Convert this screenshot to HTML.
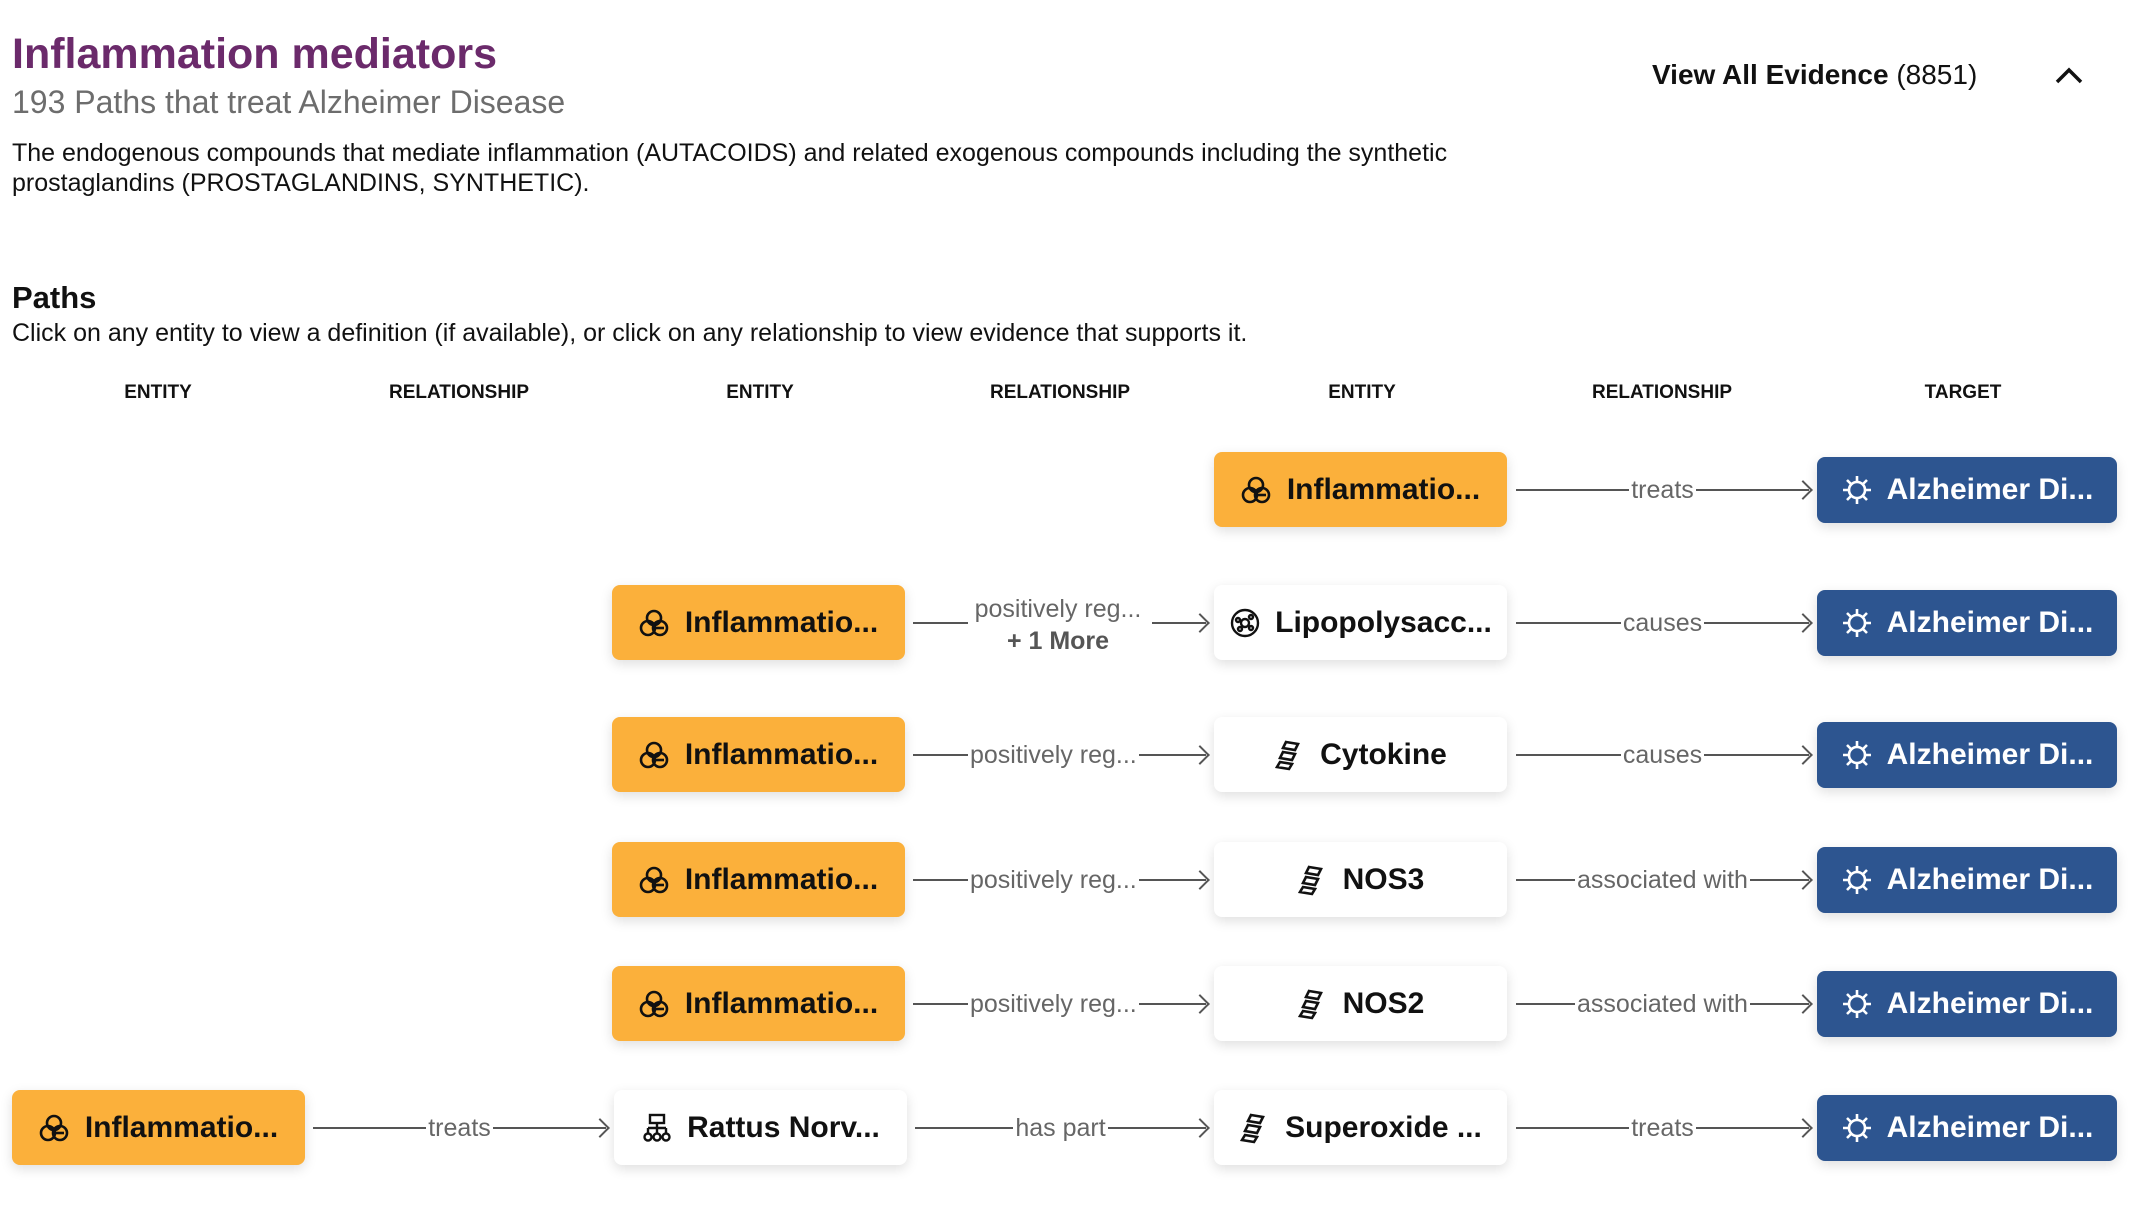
<!DOCTYPE html>
<html><head><meta charset="utf-8"><style>
body{margin:0;width:2142px;height:1226px;background:#fff;font-family:"Liberation Sans",sans-serif;position:relative;overflow:hidden;color:#111}
.a{position:absolute;white-space:nowrap}
.h{font-size:19px;font-weight:bold;transform:translateX(-50%);top:382px}
.box{position:absolute;height:75px;border-radius:8px;display:flex;align-items:center;justify-content:center;font-weight:bold;font-size:30px;box-shadow:0 4px 12px rgba(0,0,0,.13);box-sizing:border-box}
.box svg{margin-right:14px}
.o{background:#fbb03b;width:293px}
.w{background:#fff;width:293px}
.t{background:#2d5590;color:#fff;width:300px;height:66px}
.c{position:absolute;height:30px;display:flex;align-items:center;font-size:25px;color:#666}
.c i{flex:1;border-top:2px solid #555;height:0}
.c span{padding:0 2px}
.c b{width:12px;height:12px;border-top:2px solid #555;border-right:2px solid #555;transform:rotate(45deg);margin-left:-13px}
</style></head><body>
<div class="a" style="left:12px;top:30px;font-size:43px;font-weight:bold;color:#6b2a6b">Inflammation mediators</div>
<div class="a" style="left:12px;top:84px;font-size:32px;color:#6d6d6d">193 Paths that treat Alzheimer Disease</div>
<div class="a" style="left:12px;top:138px;font-size:25px;line-height:30px">The endogenous compounds that mediate inflammation (AUTACOIDS) and related exogenous compounds including the synthetic<br>prostaglandins (PROSTAGLANDINS, SYNTHETIC).</div>
<div class="a" style="left:1652px;top:59px;font-size:28px"><b>View All Evidence</b> (8851)</div>
<svg class="a" style="left:2054px;top:66px" width="30" height="20"><path d="M3 16 L15 4 L27 16" fill="none" stroke="#111" stroke-width="3.5"/></svg>
<div class="a" style="left:12px;top:280px;font-size:31px;font-weight:bold">Paths</div>
<div class="a" style="left:12px;top:319px;font-size:25px">Click on any entity to view a definition (if available), or click on any relationship to view evidence that supports it.</div>
<div class="a h" style="left:158px">ENTITY</div>
<div class="a h" style="left:459px">RELATIONSHIP</div>
<div class="a h" style="left:760px">ENTITY</div>
<div class="a h" style="left:1060px">RELATIONSHIP</div>
<div class="a h" style="left:1362px">ENTITY</div>
<div class="a h" style="left:1662px">RELATIONSHIP</div>
<div class="a h" style="left:1963px">TARGET</div>

<svg width="0" height="0" style="position:absolute"><defs>
<g id="pill"><circle cx="15" cy="11" r="7" fill="none" stroke="#111" stroke-width="2.6"/><circle cx="9" cy="21" r="7" fill="none" stroke="#111" stroke-width="2.6"/><circle cx="21" cy="21" r="7" fill="none" stroke="#111" stroke-width="2.6"/><path d="M17 21h8" stroke="#111" stroke-width="2.6"/></g>
<g id="gear" stroke="#fff" stroke-width="2.6" fill="none"><circle cx="16" cy="16" r="8"/><path d="M16 2v6M16 24v6M2 16h6M24 16h6M6 6l4 4M22 22l4 4M26 6l-4 4M10 22l-4 4"/></g>
<g id="dna" stroke="#111" stroke-width="2.6" fill="none"><path d="M12 3 L24 5 L21 11 L9 9Z M9 13 L21 15 L18 21 L6 19Z M6 23 L18 25 L15 30 L3 28Z"/></g>
<g id="cell" stroke="#111" stroke-width="2.4" fill="none"><circle cx="16" cy="16" r="13"/><circle cx="16" cy="16" r="4"/><circle cx="9" cy="13" r="2"/><circle cx="22" cy="10" r="2"/><circle cx="22" cy="21" r="2"/><circle cx="11" cy="22" r="2"/></g>
<g id="org" stroke="#111" stroke-width="2.4" fill="none"><rect x="9" y="3" width="14" height="8"/><path d="M16 11v5M7 16h18M7 16v5M16 16v5M25 16v5"/><circle cx="7" cy="25" r="3.5"/><circle cx="16" cy="25" r="3.5"/><circle cx="25" cy="25" r="3.5"/></g>
</defs></svg>

<div class="box t" style="left:1817px;top:457px"><svg width="32" height="32"><use href="#gear"/></svg>Alzheimer Di...</div>
<div class="box t" style="left:1817px;top:590px"><svg width="32" height="32"><use href="#gear"/></svg>Alzheimer Di...</div>
<div class="box t" style="left:1817px;top:722px"><svg width="32" height="32"><use href="#gear"/></svg>Alzheimer Di...</div>
<div class="box t" style="left:1817px;top:847px"><svg width="32" height="32"><use href="#gear"/></svg>Alzheimer Di...</div>
<div class="box t" style="left:1817px;top:971px"><svg width="32" height="32"><use href="#gear"/></svg>Alzheimer Di...</div>
<div class="box t" style="left:1817px;top:1095px"><svg width="32" height="32"><use href="#gear"/></svg>Alzheimer Di...</div>

<div class="box o" style="left:1214px;top:452px"><svg width="32" height="32"><use href="#pill"/></svg>Inflammatio...</div>
<div class="box w" style="left:1214px;top:585px"><svg width="32" height="32"><use href="#cell"/></svg>Lipopolysacc...</div>
<div class="box w" style="left:1214px;top:717px"><svg width="32" height="32"><use href="#dna"/></svg>Cytokine</div>
<div class="box w" style="left:1214px;top:842px"><svg width="32" height="32"><use href="#dna"/></svg>NOS3</div>
<div class="box w" style="left:1214px;top:966px"><svg width="32" height="32"><use href="#dna"/></svg>NOS2</div>
<div class="box w" style="left:1214px;top:1090px"><svg width="32" height="32"><use href="#dna"/></svg>Superoxide ...</div>

<div class="box o" style="left:612px;top:585px"><svg width="32" height="32"><use href="#pill"/></svg>Inflammatio...</div>
<div class="box o" style="left:612px;top:717px"><svg width="32" height="32"><use href="#pill"/></svg>Inflammatio...</div>
<div class="box o" style="left:612px;top:842px"><svg width="32" height="32"><use href="#pill"/></svg>Inflammatio...</div>
<div class="box o" style="left:612px;top:966px"><svg width="32" height="32"><use href="#pill"/></svg>Inflammatio...</div>
<div class="box w" style="left:614px;top:1090px"><svg width="32" height="32"><use href="#org"/></svg>Rattus Norv...</div>

<div class="box o" style="left:12px;top:1090px"><svg width="32" height="32"><use href="#pill"/></svg>Inflammatio...</div>

<div class="c" style="left:1516px;top:475px;width:294px"><i></i><span>treats</span><i></i><b></b></div>
<div class="c" style="left:1516px;top:608px;width:294px"><i></i><span>causes</span><i></i><b></b></div>
<div class="c" style="left:1516px;top:740px;width:294px"><i></i><span>causes</span><i></i><b></b></div>
<div class="c" style="left:1516px;top:865px;width:294px"><i></i><span>associated with</span><i></i><b></b></div>
<div class="c" style="left:1516px;top:989px;width:294px"><i></i><span>associated with</span><i></i><b></b></div>
<div class="c" style="left:1516px;top:1113px;width:294px"><i></i><span>treats</span><i></i><b></b></div>

<div class="c" style="left:913px;top:608px;width:294px"><i style="flex:0 0 55px"></i><span style="width:184px;padding:0"></span><i></i><b></b></div>
<div class="a" style="left:1058px;top:593px;transform:translateX(-50%);font-size:25px;color:#666;text-align:center;line-height:32px">positively reg...<br><b style="color:#555">+ 1 More</b></div>
<div class="c" style="left:913px;top:740px;width:294px"><i style="flex:0 0 55px"></i><span>positively reg...</span><i></i><b></b></div>
<div class="c" style="left:913px;top:865px;width:294px"><i style="flex:0 0 55px"></i><span>positively reg...</span><i></i><b></b></div>
<div class="c" style="left:913px;top:989px;width:294px"><i style="flex:0 0 55px"></i><span>positively reg...</span><i></i><b></b></div>
<div class="c" style="left:915px;top:1113px;width:292px"><i></i><span>has part</span><i></i><b></b></div>

<div class="c" style="left:313px;top:1113px;width:294px"><i></i><span>treats</span><i></i><b></b></div>
</body></html>
